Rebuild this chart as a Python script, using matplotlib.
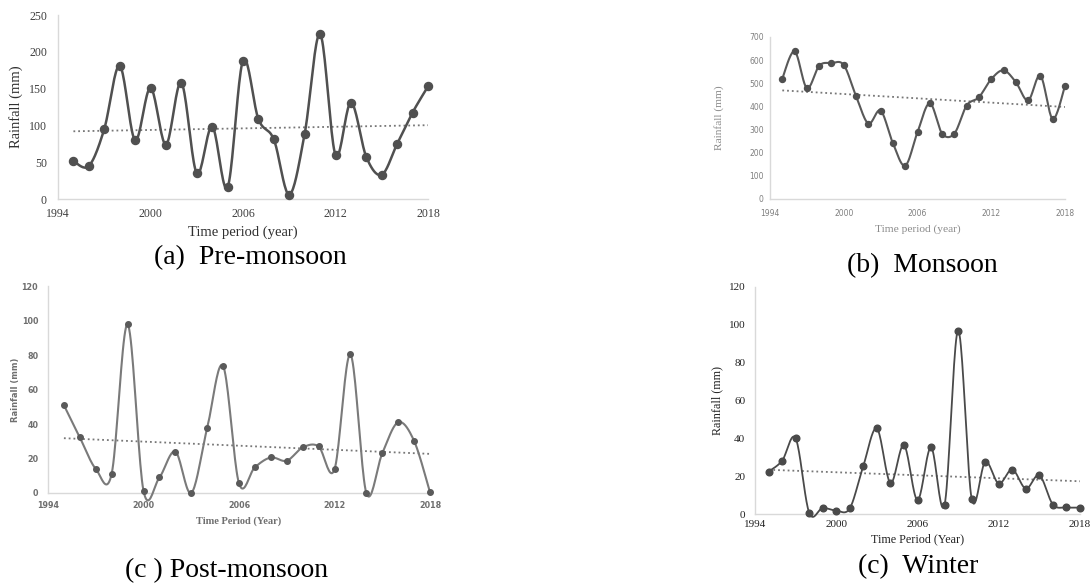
import numpy as np
import matplotlib
matplotlib.use("Agg")
import matplotlib.pyplot as plt

years = list(range(1995, 2019))

pre_monsoon = [51.5, 44.8, 95, 181, 80, 151, 74, 158, 35, 98.5, 16, 188,
               108.5, 81, 6, 88.6, 224, 60, 131, 57, 33, 75, 117.5, 153]
monsoon = [520, 638, 479, 576, 587, 579, 445, 326, 382, 241, 144, 289,
           414, 283, 283, 404, 440, 518, 556, 505, 426, 533, 346, 489]
post_monsoon = [50.9, 32.2, 14, 11.2, 97.7, 1.3, 9, 24, 0, 37.6, 73.6, 5.6,
                15, 20.6, 18.7, 26.4, 27, 13.7, 80.3, 0, 23, 41, 30.2, 0.4]
winter = [22.4, 28.1, 40, 0.7, 3.2, 1.8, 3, 25.5, 45.2, 16.4, 36.4, 7.4,
          35.2, 4.9, 97, 8.1, 27.6, 16.1, 23.5, 13.4, 20.5, 5, 3.5, 3.4]

xticks = [1994, 2000, 2006, 2012, 2018]

W, H = 1091, 584
fig = plt.figure(figsize=(W / 100, H / 100), dpi=100)


def ax_px(left, right, top, bottom):
    return fig.add_axes([left / W, 1 - bottom / H, (right - left) / W, (bottom - top) / H])


def smooth(x, y, n=20):
    x = np.asarray(x, float)
    y = np.asarray(y, float)
    xs, ys = [], []
    N = len(x)
    for i in range(N - 1):
        p0 = i - 1 if i > 0 else i
        p3 = i + 2 if i + 2 < N else i + 1
        c1x = x[i] + (x[i + 1] - x[p0]) / 6
        c1y = y[i] + (y[i + 1] - y[p0]) / 6
        c2x = x[i + 1] - (x[p3] - x[i]) / 6
        c2y = y[i + 1] - (y[p3] - y[i]) / 6
        t = np.linspace(0, 1, n, endpoint=(i == N - 2))
        b0 = (1 - t) ** 3
        b1 = 3 * (1 - t) ** 2 * t
        b2 = 3 * (1 - t) * t ** 2
        b3 = t ** 3
        xs.append(b0 * x[i] + b1 * c1x + b2 * c2x + b3 * x[i + 1])
        ys.append(b0 * y[i] + b1 * c1y + b2 * c2y + b3 * y[i + 1])
    return np.concatenate(xs), np.concatenate(ys)


def panel(ax, vals, ymax, ystep, line_c, mark_c, ms, lw, tick_font, tick_size,
          tick_c, tick_w, lab_font, lab_size, lab_c, lab_w, xlab, ylab_font=None,
          ylab_size=None, ylab_w=None, ylab_c=None, xlabelpad=2, ylabelpad=4,
          xpad=4, ypad=4):
    sx, sy = smooth(years, vals)
    ax.plot(sx, sy, color=line_c, lw=lw, zorder=3, solid_capstyle='round',
            clip_on=False)
    ax.plot(years, vals, 'o', color=mark_c, ms=ms, zorder=4, clip_on=False)
    k, b = np.polyfit(years, vals, 1)
    tx = np.array([years[0], years[-1]])
    ax.plot(tx, k * tx + b, ':', color='#777777', lw=1.3, zorder=2)
    ax.set_xlim(1994, 2018)
    ax.set_ylim(0, ymax)
    ax.set_xticks(xticks)
    ax.set_yticks(np.arange(0, ymax + 1, ystep))
    for s in ['top', 'right']:
        ax.spines[s].set_visible(False)
    for s in ['left', 'bottom']:
        ax.spines[s].set_color('#d9d9d9')
        ax.spines[s].set_linewidth(1.0)
        ax.spines[s].set_zorder(1)
    ax.tick_params(axis='x', length=0, pad=xpad)
    ax.tick_params(axis='y', length=0, pad=ypad)
    for lbl in ax.get_xticklabels() + ax.get_yticklabels():
        lbl.set_fontfamily(tick_font)
        lbl.set_fontsize(tick_size)
        lbl.set_color(tick_c)
        lbl.set_fontweight(tick_w)
    ax.set_xlabel(xlab, fontfamily=lab_font, fontsize=lab_size, color=lab_c,
                  fontweight=lab_w, labelpad=xlabelpad)
    ax.set_ylabel('Rainfall (mm)', fontfamily=ylab_font or lab_font,
                  fontsize=ylab_size or lab_size, color=ylab_c or lab_c,
                  fontweight=ylab_w or lab_w, labelpad=ylabelpad)
    ax.patch.set_alpha(0)


# (a) Pre-monsoon
axa = ax_px(58, 428, 15, 199)
panel(axa, pre_monsoon, 250, 50, '#505050', '#505050', 5.8, 1.8,
      'Liberation Serif', 8.6, '#404040', 'normal',
      'Liberation Serif', 10.5, '#303030', 'normal', 'Time period (year)',
      xlabelpad=4, ylabelpad=4, xpad=6.5, ypad=8)

# (b) Monsoon
axb = ax_px(770, 1065, 37, 199)
panel(axb, monsoon, 700, 100, '#595959', '#505050', 4.3, 1.5,
      'DejaVu Sans', 5.5, '#7f7f7f', 'normal',
      'Liberation Serif', 8.2, '#8a8a8a', 'normal', 'Time period (year)',
      ylab_size=8.2, xlabelpad=5, ylabelpad=18, xpad=7, ypad=4.5)

# (c) Post-monsoon
axc = ax_px(48, 430, 286, 493)
panel(axc, post_monsoon, 120, 20, '#7a7a7a', '#5a5a5a', 4.0, 1.5,
      'DejaVu Sans', 5.8, '#6f6f6f', 'bold',
      'Liberation Serif', 7.5, '#6f6f6f', 'bold', 'Time Period (Year)',
      ylab_font='DejaVu Sans', ylab_size=6, xlabelpad=5, ylabelpad=1,
      xpad=5.5, ypad=7)

# (d) Winter
axd = ax_px(755, 1080, 287, 514)
panel(axd, winter, 120, 20, '#4a4a4a', '#4a4a4a', 4.8, 1.3,
      'Liberation Serif', 8, '#222222', 'normal',
      'Liberation Serif', 8.7, '#222222', 'normal', 'Time Period (Year)',
      xlabelpad=3, ylabelpad=4, xpad=4.5, ypad=7)

cap = dict(fontfamily='Liberation Serif', fontsize=20, color='black',
           ha='center', va='center')
fig.text(250 / W, 1 - 258 / H, '(a)  Pre-monsoon', **cap)
fig.text(922 / W, 1 - 266 / H, '(b)  Monsoon', **cap)
fig.text(227 / W, 1 - 571 / H, '(c ) Post-monsoon', **cap)
fig.text(918 / W, 1 - 567 / H, '(c)  Winter', **cap)

fig.savefig('out.png', dpi=100)
